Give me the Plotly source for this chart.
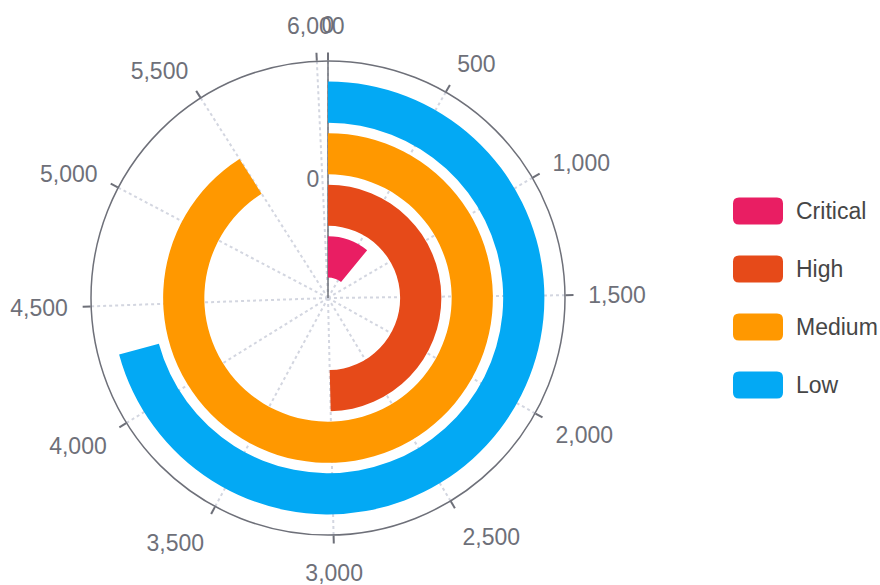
import plotly.graph_objects as go

# ---- data ----
categories = ["Critical", "High", "Medium", "Low"]
values = [660, 3000, 5500, 4280]
colors = ["#E91E63", "#E64A19", "#FF9800", "#03A9F4"]
angle_ticks = list(range(0, 6001, 500))
angle_tick_labels = [f"{v:,}" for v in angle_ticks]
radial_tick_vals = [2.3]
radial_tick_labels = ["0"]

ANGLE_MAX = 6000
ANGLE_SPAN_DEG = 357.3  # value 6000 lands just short of a full turn


def to_deg(v):
    return v / ANGLE_MAX * ANGLE_SPAN_DEG


W, H = 880, 585
fig = go.Figure()
for i, (cat, v, c) in enumerate(zip(categories, values, colors)):
    d = to_deg(v)
    fig.add_trace(go.Barpolar(
        r=[0.8], base=[i + 0.4], theta=[d / 2], width=[d],
        marker=dict(color=c, line=dict(width=0)),
        name=cat, showlegend=False, subplot="polar",
    ))
# empty trace so the tick-mark overlay subplot is drawn
fig.add_trace(go.Barpolar(r=[], theta=[], subplot="polar2", showlegend=False))

axis_grey = "#6e7079"
domain = dict(x=[91 / W, 565 / W], y=[50 / H, 524 / H])
tickvals_deg = [to_deg(v) for v in angle_ticks]
fig.update_layout(
    width=W, height=H,
    margin=dict(l=0, r=0, t=0, b=0),
    paper_bgcolor="white",
    font=dict(family="Liberation Sans, Arial, sans-serif", size=23, color=axis_grey),
    polar=dict(
        domain=domain,
        bgcolor="white",
        barmode="overlay",
        angularaxis=dict(
            direction="clockwise", rotation=90, thetaunit="degrees",
            tickmode="array", tickvals=tickvals_deg, ticktext=angle_tick_labels,
            ticks="outside", ticklen=18, tickcolor="rgba(0,0,0,0)",
            showline=True, linecolor=axis_grey, linewidth=1.5,
            showgrid=True, gridcolor="#d3d6e0", griddash="dot", gridwidth=1.5,
            tickfont=dict(size=23, color=axis_grey),
            layer="below traces",
        ),
        radialaxis=dict(
            range=[0, 4.6], angle=90, side="counterclockwise", tickangle=90,
            tickmode="array", tickvals=radial_tick_vals, ticktext=radial_tick_labels,
            showline=True, linecolor=axis_grey, linewidth=1.5,
            showgrid=False, ticks="",
            tickfont=dict(size=23, color=axis_grey),
            layer="below traces",
        ),
    ),
    polar2=dict(
        domain=domain,
        bgcolor="rgba(0,0,0,0)",
        angularaxis=dict(
            direction="clockwise", rotation=90, thetaunit="degrees",
            tickmode="array", tickvals=tickvals_deg,
            ticks="outside", ticklen=8, tickcolor=axis_grey, tickwidth=1.5,
            showticklabels=False, showline=False, showgrid=False,
        ),
        radialaxis=dict(visible=False, range=[0, 4.6]),
    ),
)

# legend: rounded swatches + labels
sw_x0, sw_x1 = 733, 783
sw_h = 27
row_y = [211, 269, 327, 385]
rad = 6
for cat, c, yc in zip(categories, colors, row_y):
    x0, x1 = sw_x0 / W, sw_x1 / W
    y0, y1 = 1 - (yc + sw_h / 2) / H, 1 - (yc - sw_h / 2) / H
    rx, ry = rad / W, rad / H
    path = (f"M {x0+rx},{y0} L {x1-rx},{y0} Q {x1},{y0} {x1},{y0+ry} "
            f"L {x1},{y1-ry} Q {x1},{y1} {x1-rx},{y1} L {x0+rx},{y1} "
            f"Q {x0},{y1} {x0},{y1-ry} L {x0},{y0+ry} Q {x0},{y0} {x0+rx},{y0} Z")
    fig.add_shape(type="path", path=path, xref="paper", yref="paper",
                  fillcolor=c, line=dict(width=0))
    fig.add_annotation(x=794 / W, y=1 - yc / H, xref="paper", yref="paper",
                       text=cat, showarrow=False, xanchor="left", yanchor="middle",
                       font=dict(size=23, color="#464646"))

fig.write_html("out.html")
